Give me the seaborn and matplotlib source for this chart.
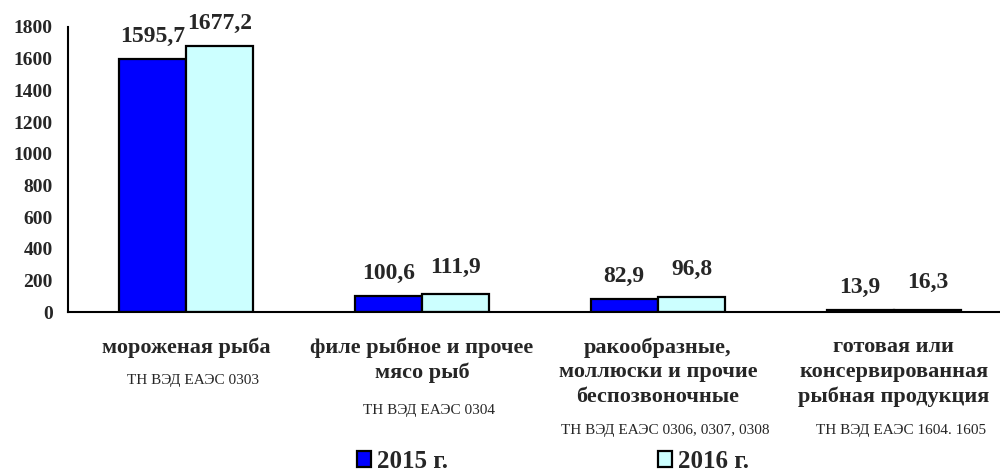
import matplotlib
matplotlib.use("Agg")
import matplotlib.pyplot as plt
import seaborn as sns
import pandas as pd


CATEGORIES = [
    "мороженая рыба",
    "филе рыбное и прочее\nмясо рыб",
    "ракообразные,\nмоллюски и прочие\nбеспозвоночные",
    "готовая или\nконсервированная\nрыбная продукция",
]

CODES = [
    "ТН ВЭД ЕАЭС 0303",
    "ТН ВЭД ЕАЭС 0304",
    "ТН ВЭД ЕАЭС 0306, 0307, 0308",
    "ТН ВЭД ЕАЭС 1604. 1605",
]

YEARS = ["2015 г.", "2016 г."]
VALUES_2015 = [1595.7, 100.6, 82.9, 13.9]
VALUES_2016 = [1677.2, 111.9, 96.8, 16.3]

COLORS = ["#0000FF", "#CCFFFF"]


df = pd.DataFrame({
    "cat": CATEGORIES * 2,
    "year": [YEARS[0]] * 4 + [YEARS[1]] * 4,
    "value": VALUES_2015 + VALUES_2016,
})

sns.set_style("white")
plt.rcParams["font.family"] = ["Liberation Serif", "DejaVu Serif"]

fig = plt.figure(figsize=(10, 4.73), dpi=100)
ax = fig.add_axes([0.068, 0.340, 0.932, 0.603])

sns.barplot(
    data=df,
    x="cat",
    y="value",
    hue="year",
    palette=COLORS,
    width=0.57,
    edgecolor="black",
    linewidth=1.6,
    saturation=1,
    ax=ax,
)

ax.set_xlim(-0.5, 3.45)
ax.set_ylim(0, 1800)
ax.set_yticks(range(0, 1801, 200))
ax.set_yticklabels([str(v) for v in range(0, 1801, 200)],
                   fontsize=14, fontweight="bold")
ax.set_xticks([0.5, 1.5, 2.5])
ax.set_xticklabels([])
ax.set_xlabel("")
ax.set_ylabel("")

for side in ["top", "right"]:
    ax.spines[side].set_visible(False)
for side in ["left", "bottom"]:
    ax.spines[side].set_color("black")
    ax.spines[side].set_linewidth(1.5)
ax.tick_params(axis="both", direction="out", length=5, width=1.5,
               color="black", pad=6)

# value labels (small 2016 labels sit a little higher)
for container, offset in zip(ax.containers, [9, 12]):
    for bar in container:
        h = bar.get_height()
        ax.annotate(
            f"{h:.1f}".replace(".", ","),
            (bar.get_x() + bar.get_width() / 2, h),
            xytext=(0, 9 if h > 1000 else offset),
            textcoords="offset points",
            ha="center", va="bottom",
            fontsize=17,
            fontweight="bold",
            annotation_clip=False,
        )

# category labels
code_y = [380, 410, 430, 430]
for i, (name, code) in enumerate(zip(CATEGORIES, CODES)):
    ax.annotate(
        name, (i, 473 - 337), xycoords=("data", "figure pixels"),
        ha="center", va="top", fontsize=16, fontweight="bold",
        linespacing=1.32, annotation_clip=False,
    )
    ax.annotate(
        code, (i + 0.03, 473 - code_y[i]), xycoords=("data", "figure pixels"),
        ha="center", va="center", fontsize=11,
        annotation_clip=False,
    )

sns.move_legend(
    ax, "center",
    bbox_to_anchor=(0.553, 0.024),
    bbox_transform=fig.transFigure,
    ncol=2,
    frameon=False,
    title=None,
    handlelength=0.55,
    handleheight=0.6,
    handletextpad=0.25,
    columnspacing=8.4,
    prop={"size": 18, "weight": "bold"},
)

fig.savefig("out.png", dpi=100)
